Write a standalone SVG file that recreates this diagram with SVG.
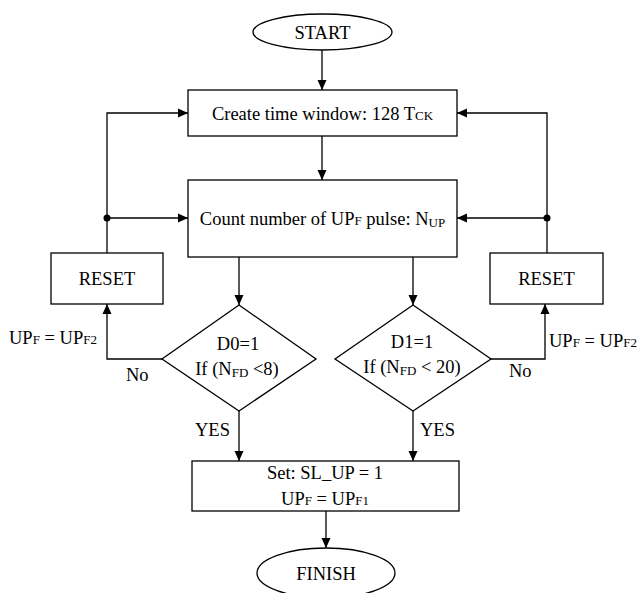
<svg xmlns="http://www.w3.org/2000/svg" width="637" height="593" viewBox="0 0 637 593">
  <defs>
    <marker id="arrow" viewBox="0 0 10 10" refX="10" refY="5" markerWidth="10" markerHeight="10" markerUnits="userSpaceOnUse" orient="auto">
      <path d="M0,0.5 L10,5 L0,9.5 Z" fill="#000"/>
    </marker>
  </defs>
  <style>
    .shape { fill: #fff; stroke: #000; stroke-width: 1.3; }
    .wire { fill: none; stroke: #000; stroke-width: 1.3; }
    .arr { marker-end: url(#arrow); }
    text { font-family: "Liberation Serif", "Times New Roman", serif; font-size: 18.5px; fill: #000; }
    .c { text-anchor: middle; }
    .sub { font-size: 13px; }
  </style>

  <rect width="637" height="593" fill="#fff"/>

  <!-- connectors -->
  <g id="connectors">
    <line class="wire arr" x1="322" y1="50" x2="322" y2="90"/>
    <line class="wire arr" x1="322" y1="136" x2="322" y2="180"/>
    <!-- left loop back from RESET -->
    <polyline class="wire arr" points="107,253 107,113 188,113"/>
    <line class="wire arr" x1="107" y1="218" x2="188" y2="218"/>
    <circle cx="107" cy="218" r="3.5" fill="#000"/>
    <!-- right loop back from RESET -->
    <polyline class="wire arr" points="547,253 547,113 457,113"/>
    <line class="wire arr" x1="547" y1="218" x2="457" y2="218"/>
    <circle cx="547" cy="218" r="3.5" fill="#000"/>
    <!-- count to decisions -->
    <line class="wire arr" x1="239" y1="257" x2="239" y2="305"/>
    <line class="wire arr" x1="413" y1="257" x2="413" y2="305"/>
    <!-- No branches -->
    <polyline class="wire arr" points="162,359 107,359 107,304"/>
    <polyline class="wire arr" points="491,359 545,359 545,304"/>
    <!-- YES branches -->
    <line class="wire arr" x1="239" y1="411" x2="239" y2="461"/>
    <line class="wire arr" x1="413" y1="411" x2="413" y2="461"/>
    <!-- to finish -->
    <line class="wire arr" x1="326" y1="511" x2="326" y2="548"/>
  </g>

  <g id="start">
    <ellipse class="shape" cx="322.5" cy="32" rx="69.5" ry="18"/>
    <text class="c" x="322.5" y="38.5">START</text>
  </g>

  <g id="window">
    <rect class="shape" x="188" y="90" width="269" height="46"/>
    <text class="c" x="322.5" y="119.5">Create time window: 128 T<tspan class="sub">CK</tspan></text>
  </g>

  <g id="count">
    <rect class="shape" x="188" y="180" width="269" height="77"/>
    <text class="c" x="322.5" y="225">Count number of UP<tspan class="sub">F</tspan> pulse: N<tspan class="sub" dy="2">UP</tspan></text>
  </g>

  <g id="reset-left">
    <rect class="shape" x="51" y="253" width="112" height="51"/>
    <text class="c" x="107" y="285">RESET</text>
  </g>

  <g id="reset-right">
    <rect class="shape" x="490" y="253" width="113" height="51"/>
    <text class="c" x="546.5" y="285">RESET</text>
  </g>

  <g id="check-d0">
    <polygon class="shape" points="239,305 316,359 239,411 162,359"/>
    <text class="c" x="238" y="350">D0=1</text>
    <text class="c" x="237" y="375">If (N<tspan class="sub" dy="2">FD</tspan><tspan dy="-2"> &lt;8)</tspan></text>
  </g>

  <g id="check-d1">
    <polygon class="shape" points="413,305 491,359 413,411 335,359"/>
    <text class="c" x="412" y="348">D1=1</text>
    <text class="c" x="412" y="373">If (N<tspan class="sub" dy="2">FD</tspan><tspan dy="-2"> &lt; 20)</tspan></text>
  </g>

  <g id="set">
    <rect class="shape" x="192" y="461" width="267" height="50"/>
    <text class="c" x="325" y="479">Set: SL_UP = 1</text>
    <text class="c" x="325" y="505">UP<tspan class="sub">F</tspan> = UP<tspan class="sub">F1</tspan></text>
  </g>

  <g id="finish">
    <ellipse class="shape" cx="326" cy="573" rx="69" ry="25"/>
    <text class="c" x="326" y="579.5">FINISH</text>
  </g>

  <!-- branch labels -->
  <g id="labels">
    <text x="9" y="344">UP<tspan class="sub">F</tspan> = UP<tspan class="sub">F2</tspan></text>
    <text x="126" y="381">No</text>
    <text x="195" y="436">YES</text>
    <text x="549" y="347">UP<tspan class="sub">F</tspan> = UP<tspan class="sub">F2</tspan></text>
    <text x="509" y="377">No</text>
    <text x="420" y="436">YES</text>
  </g>
</svg>
